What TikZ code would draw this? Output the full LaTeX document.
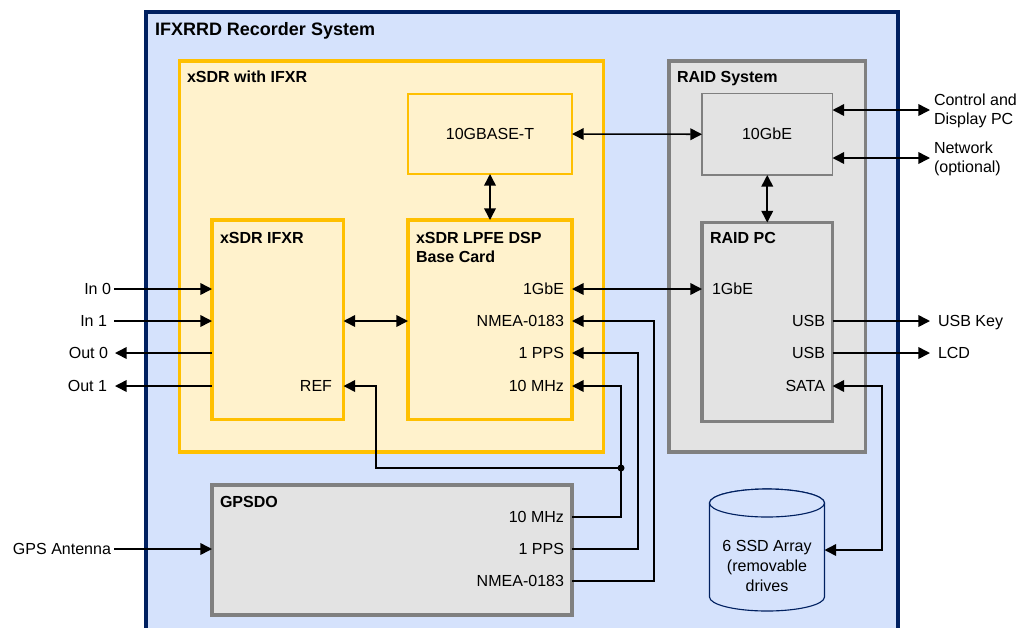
\documentclass[tikz,border=0pt]{standalone}
\usepackage{fontspec}
\setmainfont{Liberation Sans}
\usetikzlibrary{arrows.meta,fit,calc}
\definecolor{navy}{RGB}{0,32,96}
\definecolor{skyfill}{RGB}{213,226,252}
\definecolor{gold}{RGB}{255,192,0}
\definecolor{cream}{RGB}{255,242,204}
\definecolor{midgray}{RGB}{128,128,128}
\definecolor{lightgray}{RGB}{227,227,227}
\begin{document}
\begin{tikzpicture}[x=0.025cm,y=-0.025cm,
  font=\fontsize{11.4}{13.5}\selectfont,
  every node/.style={inner sep=0pt, outer sep=0pt},
  outerbox/.style={draw=navy, fill=skyfill, line width=2.2pt},
  goldthick/.style={draw=gold, fill=cream, line width=2.8pt},
  goldthin/.style={draw=gold, fill=cream, line width=1pt},
  graythick/.style={draw=midgray, fill=lightgray, line width=2.8pt},
  graythin/.style={draw=midgray, fill=lightgray, line width=1pt},
  ttl/.style={anchor=base west, yshift=-4pt, font=\fontsize{11.4}{13.5}\selectfont\bfseries},
  bigttl/.style={anchor=base west, yshift=-4.6pt, font=\fontsize{12.8}{15}\selectfont\bfseries},
  portR/.style={anchor=base east, yshift=-4pt},
  portL/.style={anchor=base west, yshift=-4pt},
  conn/.style={line width=1.1pt, -{Triangle[length=8.3pt,width=8.3pt]}},
  conn2/.style={line width=1.1pt, {Triangle[length=8.3pt,width=8.3pt]}-{Triangle[length=8.3pt,width=8.3pt]}},
  cyl/.style={draw=navy, fill=skyfill, line width=0.8pt}
]
\useasboundingbox (0,0) rectangle (1032,627);
\clip (0,0) rectangle (1032,627);

% row and column coordinates
\coordinate (rA) at (0,289);
\coordinate (rB) at (0,321);
\coordinate (rC) at (0,353);
\coordinate (rD) at (0,386);
\coordinate (gA) at (0,517);
\coordinate (gB) at (0,549);
\coordinate (gC) at (0,581);
\coordinate (cCtl) at (0,110);
\coordinate (cNet) at (0,158);
\coordinate (inx) at (114,0);
\coordinate (outx) at (115,0);
\coordinate (extx) at (930,0);
\coordinate (refcol) at (376,0);
\coordinate (ppscol) at (638,0);
\coordinate (nmeacol) at (654,0);
\coordinate (satacol) at (882,0);

% outer system
\node[outerbox, fit={(146,12) (898,680)}] (sys) {};
\node[bigttl] (systitle) at (155,29) {IFXRRD Recorder System};

% xSDR with IFXR
\node[goldthick, fit={(179.5,61) (603.5,452)}] (xsdr) {};
\node[ttl] (xsdrtitle) at (187,77) {xSDR with IFXR};
\node[goldthin, fit={(408,94) (572,174)}] (tgbase) {};
\node (tgbasetxt) at (490,134) {10GBASE-T};
\node[goldthick, fit={(212,220) (343.5,419.5)}] (ifxr) {};
\node[ttl] (ifxrtitle) at (220,238) {xSDR IFXR};
\node[portR] (ref) at (332,386) {REF};
\node[goldthick, fit={(408,220) (572,419.5)}] (card) {};
\node[anchor=north west, align=left, font=\fontsize{11.4}{13.5}\selectfont\bfseries] (cardtitle) at (416,232.3) {xSDR LPFE DSP\\Base Card};
\node[portR] (cgbe) at (564,289) {1GbE};
\node[portR] (cnmea) at (564,321) {NMEA-0183};
\node[portR] (cpps) at (564,353) {1 PPS};
\node[portR] (cten) at (564,386) {10 MHz};

% RAID system
\node[graythick, fit={(669,61) (865.5,452)}] (raid) {};
\node[ttl] (raidtitle) at (677,77) {RAID System};
\node[graythin, fit={(702,93.5) (832.5,175)}] (tengbe) {};
\node (tengbetxt) at (767,134) {10GbE};
\node[graythick, fit={(702,222.5) (832.5,421.5)}] (raidpc) {};
\node[ttl] (raidpctitle) at (710,238) {RAID PC};
\node[portL] (pgbe) at (712,289) {1GbE};
\node[portR] (usb1) at (825,321) {USB};
\node[portR] (usb2) at (825,353) {USB};
\node[portR] (sata) at (825,386) {SATA};

% GPSDO
\node[graythick, fit={(212,485) (572,615)}] (gpsdo) {};
\node[ttl] (gpsdotitle) at (220,502) {GPSDO};
\node[portR] (gten) at (564,517) {10 MHz};
\node[portR] (gpps) at (564,549) {1 PPS};
\node[portR] (gnmea) at (564,581) {NMEA-0183};

% SSD array cylinder
\filldraw[cyl] (709.5,503) -- (709.5,597) arc[start angle=180, end angle=0, x radius=57.5, y radius=14] -- (824.5,503) arc[start angle=0, end angle=-180, x radius=57.5, y radius=14] -- cycle;
\filldraw[cyl] (767,503) ellipse[x radius=57.5, y radius=14];
\node[align=center, font=\fontsize{11.4}{14.2}\selectfont] (ssd) at (767,566) {6 SSD Array\\(removable\\drives};
\coordinate (ssdE) at (824.5,550);

% external labels
\node[portR] (in0) at (111,289) {In 0};
\node[portR] (in1) at (107,321) {In 1};
\node[portR] (out0) at (108,353) {Out 0};
\node[portR] (out1) at (107,386) {Out 1};
\node[portR] (gpsant) at (111,549) {GPS Antenna};
\node[anchor=north west, align=left] (ctl) at (934,94) {Control and\\Display PC};
\node[anchor=north west, align=left] (net) at (934,142.3) {Network\\(optional)};
\node[portL] (usbkey) at (938,321) {USB Key};
\node[portL] (lcd) at (938,353) {LCD};

% connectors
\draw[conn2] (tgbase.east) -- (tengbe.west);
\draw[conn2] (tgbase.south) -- (card.north);
\draw[conn2] (tengbe.south) -- (raidpc.north);
\draw[conn2] (ifxr.east |- rB) -- (card.west |- rB);
\draw[conn2] (card.east |- rA) -- (raidpc.west |- rA);
\draw[conn2] (tengbe.east |- cCtl) -- (extx |- cCtl);
\draw[conn2] (tengbe.east |- cNet) -- (extx |- cNet);
\draw[conn] (raidpc.east |- rB) -- (extx |- rB);
\draw[conn] (raidpc.east |- rC) -- (extx |- rC);
\draw[conn2] (raidpc.east |- rD) -| (satacol |- ssdE) -- (ssdE);

\draw[conn] (inx |- rA) -- (ifxr.west |- rA);
\draw[conn] (inx |- rB) -- (ifxr.west |- rB);
\draw[conn] (ifxr.west |- rC) -- (outx |- rC);
\draw[conn] (ifxr.west |- rD) -- (outx |- rD);
\draw[conn] (inx |- gB) -- (gpsdo.west |- gB);

\node[circle, fill=black, minimum size=5pt] (jn) at (621,468) {};
\draw[conn] (gpsdo.east |- gA) -| (jn.center |- rD) -- (card.east |- rD);
\draw[conn] (jn.center) -| (refcol |- rD) -- (ifxr.east |- rD);
\draw[conn] (gpsdo.east |- gB) -| (ppscol |- rC) -- (card.east |- rC);
\draw[conn] (gpsdo.east |- gC) -| (nmeacol |- rB) -- (card.east |- rB);
\end{tikzpicture}
\end{document}
